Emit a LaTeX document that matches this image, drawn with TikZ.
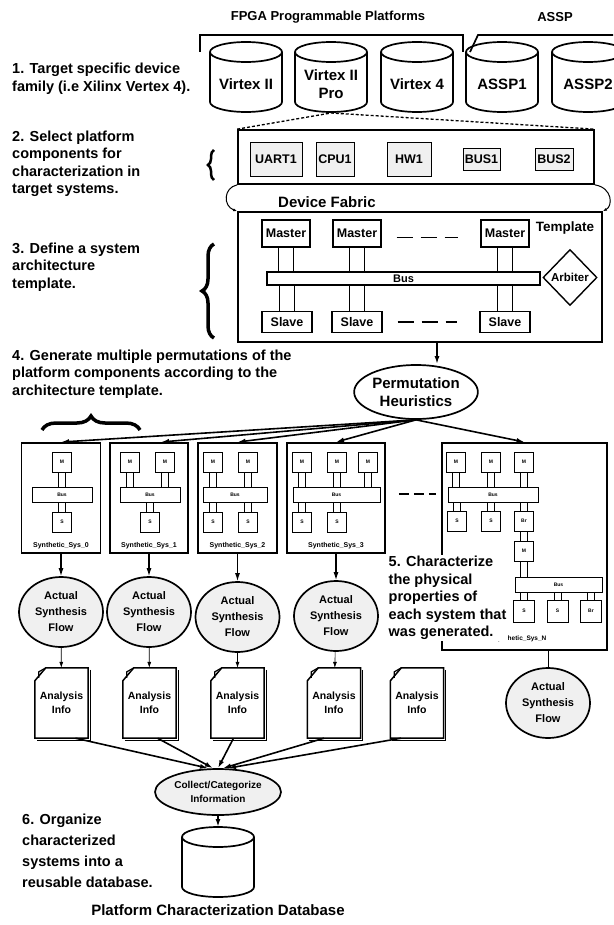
\documentclass[tikz,border=0pt]{standalone}
\usepackage{fontspec}
\setmainfont{Liberation Sans}
\usetikzlibrary{arrows.meta,calc,positioning,backgrounds,shapes.geometric,decorations.pathreplacing}

\newcommand{\fsz}[2]{\fontsize{#1}{#2}\selectfont\bfseries}
% two parallel lines between a small block and its bus
\newcommand{\pipe}[3]{\draw[duct] ([xshift=-#3]#1.center) rectangle ([xshift=#3]#1.center |- #2.center);}

\begin{document}
\begin{tikzpicture}[
  x=1pt, y=-1pt,
  >=Latex,
  steptext/.style={align=left, anchor=west, inner sep=0pt, font=\fsz{14.5}{17.5}},
  headtext/.style={inner sep=0pt, font=\fsz{13}{15}},
  cylnode/.style={align=center, inner sep=0pt, font=\fsz{15}{18}},
  cylline/.style={line width=1.7pt},
  bracketline/.style={line width=1.7pt},
  zoomline/.style={line width=1.3pt, dash pattern=on 3pt off 2pt},
  frame/.style={draw, line width=1.7pt, inner sep=0pt},
  part/.style={draw, line width=0.8pt, fill=gray!12, inner sep=0pt, font=\fsz{12.5}{14}},
  unit/.style={draw, line width=1.4pt, fill=white, inner sep=0pt, minimum width=48pt, font=\fsz{12.5}{14}},
  bigbus/.style={draw, line width=1.4pt, fill=white, inner sep=0pt, minimum height=13pt, font=\fsz{11}{13}},
  duct/.style={draw, line width=1pt, fill=white},
  gap/.style={line width=1.6pt, dash pattern=on 16pt off 8pt},
  bendarrow/.style={-{Latex[length=4pt,width=3pt]}, line width=1pt},
  flow/.style={-{Latex[length=8pt,width=5pt]}, line width=1.6pt},
  thinflow/.style={-{Latex[length=6pt,width=4pt]}, line width=0.6pt},
  oval/.style={ellipse, draw, line width=1.7pt, inner sep=0pt, align=center},
  sysbox/.style={draw, line width=1.9pt, inner sep=0pt},
  mini/.style={draw, line width=1pt, fill=white, minimum width=19pt, minimum height=20pt, inner sep=0pt, font=\fsz{5}{6}},
  minibus/.style={draw, line width=1pt, fill=white, minimum height=15pt, inner sep=0pt, font=\fsz{5}{6}},
  systag/.style={inner sep=0pt, font=\fsz{7}{8}},
  docnode/.style={minimum width=53pt, minimum height=70pt, inner sep=0pt, align=center, font=\fsz{10.5}{14}},
  docline/.style={line width=1.5pt},
  curly/.style={decorate, decoration={brace, amplitude=#1}, line width=3.5pt}
]
\useasboundingbox (0,0) rectangle (613,925);

% ---- step texts
\node[steptext] (s1) at (12,79) {1. Target specific device\\family (i.e Xilinx Vertex 4).};
\node[steptext] (s2) at (12,164) {2. Select platform\\components for\\characterization in\\target systems.};
\node[steptext] (s3) at (12,267) {3. Define a system\\architecture\\template.};
\node[steptext] (s4) at (12,374) {4. Generate multiple permutations of the\\platform components according to the\\architecture template.};
\node[steptext, font=\fsz{14.5}{21}] (s6) at (22,851) {6. Organize\\characterized\\systems into a\\reusable database.};

\draw[curly=6pt, line width=2.5pt] (214,180) -- (214,150);
\draw[curly=12pt] (214,338) -- (214,244);
\draw[curly=14pt] (42,430) -- (140,430);

% ---- platforms
\node[headtext] (fpga) at (328,17) {FPGA Programmable Platforms};
\node[headtext] (assp) at (555,17) {ASSP};
\draw[bracketline] (200,52) |- (463,35) -- (463,52);
\draw[bracketline] (470,52) -- (478,35) -- (613,35);

\node[cylnode] (vx2) at (246,84) {Virtex II};
\node[cylnode] (vx2p) at (331,84) {Virtex II\\Pro};
\node[cylnode] (vx4) at (417,84) {Virtex 4};
\node[cylnode] (assp1) at (502,84) {ASSP1};
\node[cylnode] (assp2) at (588,84) {ASSP2};
\node[inner sep=0pt] (pcdb) at (218,869) {};
\foreach \c in {vx2,vx2p,vx4,assp1,assp2,pcdb}{
  \draw[cylline] ([shift={(-36pt,32pt)}]\c.center) -- ([shift={(-36pt,-18pt)}]\c.center)
    arc[start angle=180, end angle=360, x radius=36pt, y radius=10pt]
    -- ([shift={(36pt,32pt)}]\c.center);
  \draw[cylline] ([yshift=32pt]\c.center) ellipse[x radius=36pt, y radius=10pt];
}
\coordinate (vx2p-base) at ([yshift=-29pt]vx2p.center);
\coordinate (pcdb-top) at ([yshift=42pt]pcdb.center);

% ---- platform components
\node[frame, minimum width=356pt, minimum height=54pt] (comp) at (416,157) {};
\node[part, minimum width=52pt, minimum height=34pt] (uart) at (276,159) {UART1};
\node[part, minimum width=38pt, minimum height=34pt] (cpu) at (335,159) {CPU1};
\node[part, minimum width=44pt, minimum height=34pt] (hw) at (409,159) {HW1};
\node[part, minimum width=37pt, minimum height=22pt] (bus1) at (481.5,159) {BUS1};
\node[part, minimum width=38pt, minimum height=22pt] (bus2) at (554,159) {BUS2};
\draw[zoomline] (comp.north west) -- (vx2p-base) -- (comp.north east);

% ---- template
\node[frame, minimum width=364pt, minimum height=130pt] (tmpl) at (420,277) {};
\node[inner sep=0pt, font=\fsz{15}{18}] (fabric) at (327,202) {Device Fabric};
\node[inner sep=0pt, font=\fsz{13.5}{16}] (tmpltag) at (565,228) {Template};
\draw[bendarrow] (comp.south west) .. controls +(-14,3) and +(-14,-5) .. (tmpl.north west);
\draw[bendarrow] (comp.south east) .. controls +(18,3) and +(10,-5) .. (tmpl.north east);

\node[unit, minimum height=27pt] (mst1) at (286,233.5) {Master};
\node[unit, minimum height=27pt] (mst2) at (357,233.5) {Master};
\node[unit, minimum height=27pt] (mst3) at (505,233.5) {Master};
\node[bigbus, minimum width=273pt] (tbus) at (403.5,278.5) {Bus};
\node[unit, minimum height=21pt, minimum width=50pt] (slv1) at (287,322) {Slave};
\node[unit, minimum height=21pt, minimum width=50pt] (slv2) at (357,322) {Slave};
\node[unit, minimum height=21pt, minimum width=50pt] (slv3) at (505,322) {Slave};
\node[diamond, draw, line width=1.4pt, minimum width=54pt, minimum height=56pt, inner sep=0pt, font=\fsz{11.5}{13}] (arb) at (570,277.5) {Arbiter};
\draw[gap] ([shift={(15pt,-4pt)}]mst2.east) -- ([shift={(-22pt,-4pt)}]mst3.west);
\draw[gap] ([xshift=15pt]slv2.east) -- ([xshift=-22pt]slv3.west);

% ---- permutations
\node[oval, minimum width=114pt, minimum height=54pt, font=\fsz{15}{18}] (perm) at (416,392) {Permutation\\Heuristics};
\draw[flow] ([xshift=17pt]tmpl.south) -- ([xshift=17pt]tmpl.south |- perm.north);

\node[sysbox, minimum width=79pt, minimum height=110pt] (sys0) at (61,498) {};
\node[sysbox, minimum width=78pt, minimum height=110pt] (sys1) at (149,498) {};
\node[sysbox, minimum width=79pt, minimum height=110pt] (sys2) at (237.5,498) {};
\node[sysbox, minimum width=98pt, minimum height=110pt] (sys3) at (336,498) {};
\node[sysbox, minimum width=165pt, minimum height=207pt] (sysN) at (524.5,546.5) {};

\node[mini] (m01) at (62,462) {M};
\node[minibus, minimum width=60pt] (b0) at (62,494.5) {Bus};
\node[mini] (s01) at (62,522) {S};
\node[systag] (t0) at (61,546) {Synthetic\_Sys\_0};

\node[mini] (m11) at (130,462) {M};
\node[mini] (m12) at (165,462) {M};
\node[minibus, minimum width=60pt] (b1) at (150,494.5) {Bus};
\node[mini] (s11) at (150,522) {S};
\node[systag] (t1) at (149,546) {Synthetic\_Sys\_1};

\node[mini] (m21) at (213,462) {M};
\node[mini] (m22) at (248,462) {M};
\node[minibus, minimum width=64pt] (b2) at (235,494.5) {Bus};
\node[mini] (s21) at (213,522) {S};
\node[mini] (s22) at (248,522) {S};
\node[systag] (t2) at (237.5,546) {Synthetic\_Sys\_2};

\node[mini] (m31) at (302,462) {M};
\node[mini] (m32) at (337,462) {M};
\node[mini] (m33) at (368,462) {M};
\node[minibus, minimum width=87pt] (b3) at (336.5,494.5) {Bus};
\node[mini] (s31) at (302,522) {S};
\node[mini] (s32) at (337,522) {S};
\node[systag] (t3) at (336,546) {Synthetic\_Sys\_3};

\node[mini] (mN1) at (456,462) {M};
\node[mini] (mN2) at (491,462) {M};
\node[mini] (mN3) at (524,462) {M};
\node[minibus, minimum width=90pt] (bN1) at (493,494.5) {Bus};
\node[mini] (sN1) at (457,521) {S};
\node[mini] (sN2) at (491,521) {S};
\node[mini] (brN1) at (524,521) {Br};
\node[mini] (mN4) at (524,551) {M};
\node[minibus, minimum width=87pt] (bN2) at (558.5,584.5) {Bus};
\node[mini, minimum width=21pt, minimum height=22pt] (sN3) at (524,611) {S};
\node[mini, minimum width=21pt, minimum height=22pt] (sN4) at (557.5,611) {S};
\node[mini, minimum width=21pt, minimum height=22pt] (brN2) at (591,611) {Br};
\node[systag, font=\fsz{6.5}{7}] (tN) at (520,639) {Synthetic\_Sys\_N};

\foreach \s in {sys0,sys2,sys3,sysN} \draw[flow] (perm.south) -- (\s.north);
\draw[flow] (perm.south) -- ([xshift=12pt]sys1.north);
\coordinate (gapend) at ([xshift=-5pt]sysN.west |- sys3.east);
\draw[gap, dash pattern=on 10pt off 5pt] ([shift={(13pt,4pt)}]sys3.east) -- ([yshift=4pt]gapend);

\node[steptext, fill=white, inner sep=1.5pt] (s5) at (387,598) {5. Characterize\\the physical\\properties of\\each system that\\was generated.};

% ---- synthesis and analysis
\node[oval, fill=gray!12, minimum width=84pt, minimum height=70pt, font=\fsz{11}{16}] (asf0) at (61,612) {Actual\\Synthesis\\Flow};
\node[oval, fill=gray!12, minimum width=84pt, minimum height=70pt, font=\fsz{11}{16}] (asf1) at (149,612) {Actual\\Synthesis\\Flow};
\node[oval, fill=gray!12, minimum width=84pt, minimum height=70pt, font=\fsz{11}{16}] (asf2) at (237.5,617) {Actual\\Synthesis\\Flow};
\node[oval, fill=gray!12, minimum width=84pt, minimum height=70pt, font=\fsz{11}{16}] (asf3) at (336,616) {Actual\\Synthesis\\Flow};
\node[oval, fill=gray!12, minimum width=84pt, minimum height=70pt, font=\fsz{11}{16}] (asfN) at (548,703) {Actual\\Synthesis\\Flow};
\foreach \k in {0,1,2,3} \draw[flow, line width=1.2pt] (sys\k) -- (asf\k);
\draw[line width=0.6pt] (sysN.south -| asfN) -- (asfN);

\node[docnode] (doc0) at (61.5,703) {Analysis\\Info};
\node[docnode] (doc1) at (149.5,703) {Analysis\\Info};
\node[docnode] (doc2) at (237.5,703) {Analysis\\Info};
\node[docnode] (doc3) at (334,703) {Analysis\\Info};
\node[docnode] (doc4) at (417,703) {Analysis\\Info};
\foreach \d in {doc0,doc1,doc2,doc3,doc4}{
  \draw[docline] ([yshift=-13pt]\d.north west) -- ([xshift=11pt]\d.north west) -- (\d.north east)
    -- (\d.south east) -- (\d.south west) -- cycle;
  \draw[line width=1.3pt] ([shift={(2pt,-2pt)}]\d.north east) -- ([shift={(2pt,-2pt)}]\d.south east) -- ([shift={(2pt,-2pt)}]\d.south west);
  \draw[line width=1.2pt] ([xshift=11pt]\d.north west) -- ([shift={(4pt,-4pt)}]\d.north west) -- ([shift={(4pt,-10pt)}]\d.north west);
}
\foreach \k in {0,1,2,3} \draw[thinflow] (asf\k) -- (doc\k);

\node[oval, fill=gray!12, minimum width=126pt, minimum height=46pt, font=\fsz{10}{14}] (collect) at (218,792) {Collect/Categorize\\Information};
\draw[flow] ([xshift=14pt]doc0.south) -- ([xshift=-10pt]collect.north);
\draw[flow] ([xshift=8pt]doc1.south) -- ([xshift=-5pt]collect.north);
\draw[flow] ([xshift=-4pt]doc2.south) -- (collect.north);
\draw[flow] ([xshift=-10pt]doc3.south) -- ([xshift=5pt]collect.north);
\draw[flow] ([xshift=-16pt]doc4.south) -- ([xshift=10pt]collect.north);
\draw[flow] (collect) -- (pcdb-top);
\node[inner sep=0pt, font=\fsz{15}{18}] (pcdbtag) at (218,910) {Platform Characterization Database};

% ---- bus links behind the blocks
\begin{scope}[on background layer]
  \foreach \m in {mst1,mst2,mst3,slv1,slv2,slv3}{\pipe{\m}{tbus}{7.5pt}}
  \pipe{m01}{b0}{3.5pt}
  \pipe{s01}{b0}{3.5pt}
  \foreach \m in {m11,m12,s11}{\pipe{\m}{b1}{3.5pt}}
  \foreach \m in {m21,m22,s21,s22}{\pipe{\m}{b2}{3.5pt}}
  \foreach \m in {m31,m32,m33,s31,s32}{\pipe{\m}{b3}{3.5pt}}
  \foreach \m in {mN1,mN2,mN3,sN1,sN2,brN1}{\pipe{\m}{bN1}{3.5pt}}
  \pipe{brN1}{mN4}{3.5pt}
  \foreach \m in {mN4,sN3,sN4,brN2}{\pipe{\m}{bN2}{3.5pt}}
\end{scope}
\end{tikzpicture}
\end{document}
